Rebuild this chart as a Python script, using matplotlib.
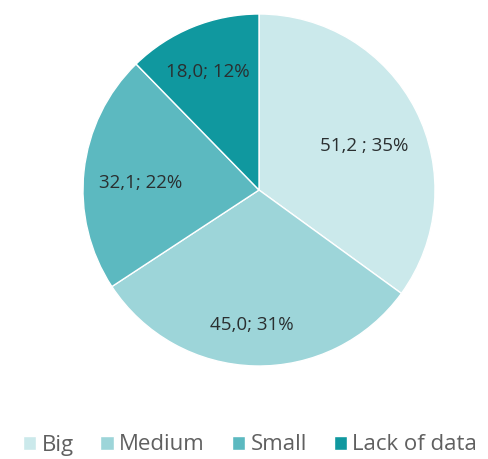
import matplotlib
matplotlib.use("Agg")
import matplotlib.pyplot as plt
import numpy as np

categories = ["Big", "Medium", "Small", "Lack of data"]
values = [51.2, 45.0, 32.1, 18.0]
value_labels = ["51,2", "45,0", "32,1", "18,0"]
separators = [" ; ", "; ", "; ", "; "]
colors = ["#CBE9EB", "#9DD5D9", "#5CB9C0", "#10989F"]

plt.rcParams['font.family'] = ['Open Sans', 'DejaVu Sans']

fig = plt.figure(figsize=(4.88, 4.59), dpi=100)
ax = fig.add_axes([83/488, 1 - 366/459, 352/488, 352/459])
wedges, _ = ax.pie(values, colors=colors, startangle=90, counterclock=False,
                   radius=1.0, wedgeprops=dict(edgecolor="white", linewidth=1.0))
ax.set_xlim(-1, 1)
ax.set_ylim(-1, 1)
ax.set_aspect("equal")
ax.axis("off")

total = sum(values)
# label placement: (radial factor, angle offset in degrees) per wedge
placement = [(0.647, -4.3), (0.768, -1.6), (0.672, 2.6), (0.73, 1.2)]
for w, v, vl, sep, (rf, da) in zip(wedges, values, value_labels, separators, placement):
    mid = (w.theta1 + w.theta2) / 2 + da
    pct = round(v / total * 100)
    ax.text(rf * np.cos(np.radians(mid)), rf * np.sin(np.radians(mid)),
            f"{vl}{sep}{pct}%", ha="center", va="center", fontsize=13.5, color="#2a2f30")

fig.legend(wedges, categories, loc="center", bbox_to_anchor=(250/488, 1 - 445/459),
           ncol=4, frameon=False, handlelength=0.6, handleheight=0.6,
           handletextpad=0.25, columnspacing=1.2, fontsize=16, labelcolor="#606060",
           borderpad=0, borderaxespad=0)

fig.savefig("out.png", dpi=100)
